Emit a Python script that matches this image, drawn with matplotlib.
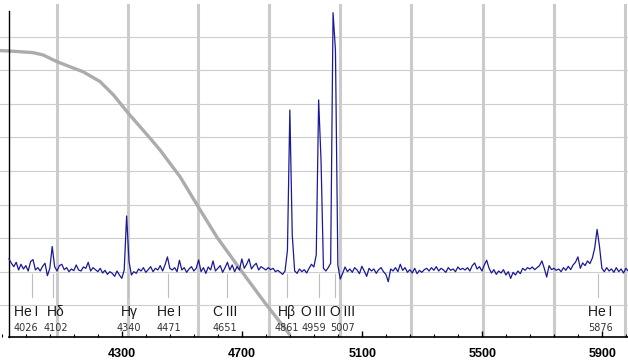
import numpy as np
import matplotlib
matplotlib.use("Agg")
import matplotlib.pyplot as plt
from matplotlib.ticker import FixedLocator, MultipleLocator

# wavelength grid of the spectrum (8 A steps)
wave_start = 3923
wave_step = 8

# spectrum flux (continuum ~1.1)
flux_blue = [1.38, 1.25, 1.15, 1.28, 1.05, 1.22, 1.08, 1.18, 1.02, 1.30,
             1.36, 1.05, 1.12, 1.02, 1.16, 1.25, 0.88, 1.10, 1.75, 1.15,
             1.02, 1.18, 1.22, 1.06, 1.12, 1.00, 1.08, 1.03, 1.20, 1.05,
             1.02, 1.14, 1.10, 1.28, 1.02, 1.12, 1.06, 1.00, 1.10, 0.96,
             1.04, 0.92, 1.00, 0.95, 0.86, 1.02, 0.90, 0.80, 1.05, 2.66,
             1.30, 0.90, 1.00, 0.95, 1.08, 1.02, 1.12, 0.98, 1.06, 1.15]
flux_green = [1.00, 1.10, 1.05, 1.18, 1.02, 1.20, 1.44, 1.10, 1.05, 1.12,
              1.00, 1.34, 1.05, 1.12, 0.98, 1.08, 1.15, 1.02, 1.10, 1.35,
              1.00, 1.12, 0.95, 1.14, 1.05, 1.32, 1.02, 1.10, 1.18, 0.98,
              1.12, 1.28, 1.05, 1.20, 1.00, 1.15, 1.05, 1.38, 1.10, 1.22,
              1.38, 1.08, 1.18, 1.25, 1.05, 1.15, 1.10, 1.05, 1.12, 1.06,
              1.10, 1.00, 1.04, 0.98, 0.92, 1.02]
flux_oiii = [1.64, 5.82, 2.10, 1.02, 0.95, 1.08, 1.00, 1.06, 0.96, 1.10,
             1.22, 1.14, 1.50, 6.12, 4.30, 1.10, 1.02, 1.12, 1.25, 8.72,
             7.60, 1.20, 0.78]
flux_red = [0.95, 1.14, 1.00, 1.08, 0.98, 1.12, 1.05, 0.94, 1.16, 1.02,
            0.86, 1.10, 1.02, 1.08, 0.95, 1.06, 1.12, 1.00, 0.92, 0.70,
            1.08, 1.02, 1.12, 1.00, 1.22, 1.04, 1.12, 0.98, 1.06, 0.96,
            1.10, 0.94, 1.04, 0.98, 1.06, 1.10, 1.02, 1.12, 1.04, 1.15,
            1.02, 1.10, 1.05, 0.98, 1.12, 1.04, 1.08, 1.00, 1.14, 1.06,
            1.10, 1.05, 1.12, 1.02, 1.18, 1.26, 1.08, 1.15, 1.02, 1.20,
            1.34, 1.10, 0.96, 1.06, 0.92, 1.02, 0.96, 1.06, 0.90, 1.00,
            0.80, 0.98, 0.90, 1.02, 0.94, 1.10, 1.04, 1.12, 1.08, 1.14,
            1.06, 1.12, 1.18, 1.32, 1.10, 0.84, 1.18, 1.06, 1.10, 1.04,
            1.08, 1.00, 1.12, 1.04, 1.16, 1.06, 1.20, 1.28, 1.44, 1.10,
            1.26, 1.18, 1.32, 1.24, 1.40, 1.70, 2.26, 1.75, 1.10, 1.00,
            1.12, 1.02, 1.08, 0.98, 1.12, 1.00, 1.08, 0.96, 1.10, 1.02]

# grey response curve
curve_x = [3893, 3923, 4003, 4037, 4083, 4126, 4170, 4226, 4271, 4320,
           4393, 4426, 4493, 4560, 4616, 4700, 4776, 4860]
curve_y = [7.59, 7.58, 7.53, 7.46, 7.26, 7.11, 6.96, 6.67, 6.27, 5.73,
           4.98, 4.63, 3.83, 2.84, 2.03, 0.99, 0.07, -0.89]

# line identifications
ion_names = ['He\u2009I', 'Hδ', 'Hγ', 'He\u2009I', 'C\u2009III', 'Hβ',
             'O\u2009III', 'O\u2009III', 'He\u2009I']
ion_waves = ['4026', '4102', '4340', '4471', '4651', '4861', '4959', '5007', '5876']
label_x = [3980, 4080, 4323, 4456, 4643, 4848, 4938, 5035, 5893]
marker_x = [4000, 4070, 4320, 4453, 4650, 4850, 4956, 5010, 5886]

# heavy vertical grid and axis ticks
vgrid_x = [4083, 4320, 4553, 4790, 5027, 5263, 5503, 5740, 5977]
hgrid_y = [0, 1, 2, 3, 4, 5, 6, 7, 8]
xticks = [4300, 4700, 5100, 5500, 5900]

flux = np.array(flux_blue + flux_green + flux_oiii + flux_red)
wave = wave_start + wave_step * np.arange(len(flux))

fig = plt.figure(figsize=(6.28, 3.63), dpi=100)
ax = fig.add_axes([0, 26 / 363, 1, 333 / 363])
ax.set_xlim(3893, 5986)
ax.set_ylim(-0.948, 8.98)

for y in hgrid_y:
    ax.axhline(y, color='#cdcdcd', lw=0.8, zorder=1)
for x in vgrid_x:
    ax.axvline(x, ymin=0.005, color='#cbcbcb', lw=2.2, zorder=1)
for x in marker_x:
    ax.plot([x, x], [0.93, 0.25], color='#bdbdbd', lw=0.8, zorder=1)

ax.plot(curve_x, curve_y, color='#acacac', lw=2.4, solid_capstyle='butt',
        solid_joinstyle='round', zorder=2)
ax.plot(wave, flux, color='#1a1a96', lw=0.9, zorder=3)

for name, w, x in zip(ion_names, ion_waves, label_x):
    ax.text(x, -0.33, name, ha='center', va='baseline', fontsize=10,
            family=['Liberation Sans', 'DejaVu Sans'],
            color='#1a1a1a', zorder=4)
    ax.text(x, -0.78, w, ha='center', va='baseline', fontsize=7,
            family='DejaVu Sans', color='#333333', zorder=4)

for s in ['top', 'right']:
    ax.spines[s].set_visible(False)
ax.spines['left'].set_position(('data', 3923))
ax.spines['left'].set_bounds(-0.948, 8.77)
ax.spines['left'].set_linewidth(1.0)
ax.spines['bottom'].set_bounds(3923, 5986)
ax.spines['bottom'].set_linewidth(1.2)

ax.xaxis.set_major_locator(FixedLocator(xticks))
ax.xaxis.set_minor_locator(MultipleLocator(80, offset=60))
ax.tick_params(axis='x', which='major', direction='in', length=4, width=1, pad=8,
               labelsize=9)
ax.tick_params(axis='x', which='minor', direction='in', length=2.5, width=0.8)
for lab in ax.get_xticklabels():
    lab.set_fontweight('bold')
    lab.set_family('Liberation Sans')
ax.set_yticks([])

fig.savefig('out.png', dpi=100)
